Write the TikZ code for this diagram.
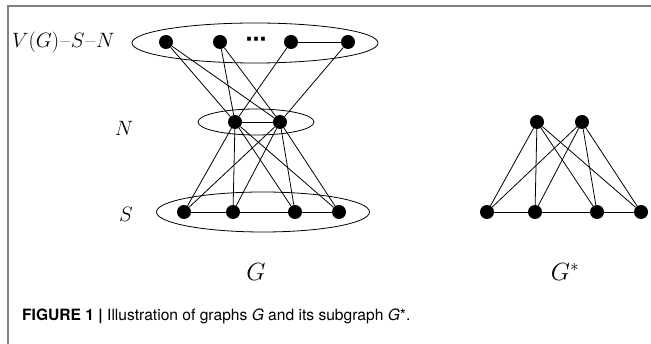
\documentclass[tikz,border=0pt]{standalone}
\usepackage{fontspec}
\newfontfamily\capfont{TeX Gyre Heros}
\newfontfamily\symfont{DejaVu Sans}
\usetikzlibrary{positioning,shapes.geometric}

\begin{document}
\begin{tikzpicture}[x=1pt, y=-1pt,
    vertex/.style={circle, fill=black, inner sep=0pt, minimum size=14pt},
    edge/.style={line width=0.8pt},
    vset/.style={ellipse, draw=black, line width=0.8pt, inner sep=0pt},
    setlabel/.style={font=\fontsize{21}{23}\selectfont},
    graphlabel/.style={font=\fontsize{25}{27}\selectfont},
    frameline/.style={draw=black!50, line width=1.4pt}
    ]
    \useasboundingbox (0,0) rectangle (651,344);
    \draw[frameline] (8,344) -- (8,6) -- (651,6);
    % vertex sets of G
    \node[vset, minimum width=246pt, minimum height=40pt] (topset) at (255,43) {};
    \node[vset, minimum width=116pt, minimum height=26pt] (nset) at (256,122) {};
    \node[vset, minimum width=213pt, minimum height=40pt] (sset) at (263,212) {};
    \node[setlabel, anchor=west, inner sep=0pt] (toplabel) at (12,42) {$V(G)$\kern1pt–\kern1pt$S$\kern1pt–\kern1pt$N$};
    \node[setlabel] (nlabel) at (124,128) {$N$};
    \node[setlabel] (slabel) at (126,214) {$S$};
    % G
    \node[vertex] (v1) at (166,42) {};
    \node[vertex] (v2) at (220,42) {};
    \node[font=\symfont\bfseries\fontsize{21}{21}\selectfont] (dots) at (256,42) {⋯};
    \node[vertex] (v3) at (291,42) {};
    \node[vertex] (v4) at (348,42) {};
    \node[vertex] (n1) at (235,122) {};
    \node[vertex] (n2) at (280,122) {};
    \node[vertex] (s1) at (184,212) {};
    \node[vertex] (s2) at (233,212) {};
    \node[vertex] (s3) at (295,212) {};
    \node[vertex] (s4) at (339,212) {};
    \draw[edge] (v3) -- (v4);
    \draw[edge] (v1) -- (n1);
    \draw[edge] (v1) -- (n2);
    \draw[edge] (v2) -- (n1);
    \draw[edge] (v2) -- (n2);
    \draw[edge] (v3) -- (n1);
    \draw[edge] (v4) -- (n2);
    \draw[edge] (n1) -- (n2);
    \draw[edge] (s1) -- (s2) -- (s3) -- (s4);
    \foreach \s in {s1,s2,s3,s4} {
        \draw[edge] (n1) -- (\s);
        \draw[edge] (n2) -- (\s);
    }
    % G*
    \node[vertex] (m1) at (537,122) {};
    \node[vertex] (m2) at (582,122) {};
    \node[vertex] (t1) at (487,212) {};
    \node[vertex] (t2) at (535,212) {};
    \node[vertex] (t3) at (597,212) {};
    \node[vertex] (t4) at (641,212) {};
    \draw[edge] (t1) -- (t2) -- (t3) -- (t4);
    \foreach \t in {t1,t2,t3,t4} {
        \draw[edge] (m1) -- (\t);
        \draw[edge] (m2) -- (\t);
    }
    \node[graphlabel] (glabel) at (256,272) {$G$};
    \node[graphlabel] (gstarlabel) at (565,272) {$G^{*}$};
    \node[anchor=west, inner sep=0pt, font=\capfont\fontsize{15.6}{17}\selectfont] (caption) at (22,316)
        {\textbf{FIGURE 1 |} Illustration of graphs \textit{G} and its subgraph \textit{G}*.};
\end{tikzpicture}
\end{document}
